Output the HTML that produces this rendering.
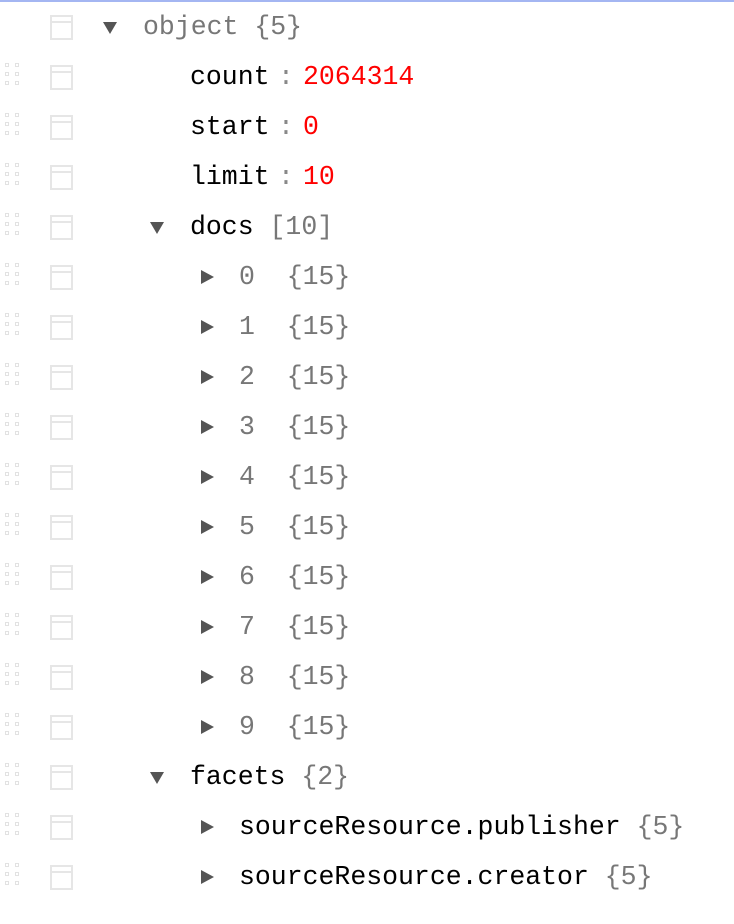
<!DOCTYPE html>
<html><head><meta charset="utf-8"><style>
body{margin:0;width:734px;height:924px;background:#fff;position:relative;overflow:hidden;font-family:"Liberation Mono",monospace;font-size:26.5px}
.top{position:absolute;left:0;top:0;width:734px;height:2px;background:#a4b6f2}
.row{position:absolute;left:0;width:734px;height:50px}
.h{position:absolute;left:5px;top:11px;width:16px;height:24px}
.h i{position:absolute;width:4px;height:4px;border:1px solid #e2e2e2;box-sizing:border-box}
.b{position:absolute;left:50px;top:13px;width:23px;height:25px;border:2px solid #e6e6e6;box-sizing:border-box}
.b:after{content:"";position:absolute;left:0;right:0;top:4px;height:2px;background:#e6e6e6}
.t{position:absolute;top:8px;line-height:34px;white-space:pre}
.k{color:#000}.g{color:#777}.r{color:#f00}
.dn{position:absolute;top:20px;width:0;height:0;border-left:7px solid transparent;border-right:7px solid transparent;border-top:12px solid #555}
.rt{position:absolute;top:18px;width:0;height:0;border-top:7px solid transparent;border-bottom:7px solid transparent;border-left:13px solid #555}
.c{position:absolute;top:8px;line-height:34px;color:#888}
</style></head><body>
<div class="top"></div>
<div class="row" style="top:2px"><div class="b"></div><div class="dn" style="left:103px"></div><div class="t g" style="left:143px">object {5}</div></div>

<div class="row" style="top:52px"><div class="h"><i style="left:0;top:0"></i><i style="left:10px;top:0"></i><i style="left:0;top:9px"></i><i style="left:10px;top:9px"></i><i style="left:0;top:18px"></i><i style="left:10px;top:18px"></i></div><div class="b"></div><div class="t k" style="left:190px">count</div><div class="c" style="left:278px">:</div><div class="t r" style="left:303px">2064314</div></div>
<div class="row" style="top:102px"><div class="h"><i style="left:0;top:0"></i><i style="left:10px;top:0"></i><i style="left:0;top:9px"></i><i style="left:10px;top:9px"></i><i style="left:0;top:18px"></i><i style="left:10px;top:18px"></i></div><div class="b"></div><div class="t k" style="left:190px">start</div><div class="c" style="left:278px">:</div><div class="t r" style="left:303px">0</div></div>
<div class="row" style="top:152px"><div class="h"><i style="left:0;top:0"></i><i style="left:10px;top:0"></i><i style="left:0;top:9px"></i><i style="left:10px;top:9px"></i><i style="left:0;top:18px"></i><i style="left:10px;top:18px"></i></div><div class="b"></div><div class="t k" style="left:190px">limit</div><div class="c" style="left:278px">:</div><div class="t r" style="left:303px">10</div></div>
<div class="row" style="top:202px"><div class="h"><i style="left:0;top:0"></i><i style="left:10px;top:0"></i><i style="left:0;top:9px"></i><i style="left:10px;top:9px"></i><i style="left:0;top:18px"></i><i style="left:10px;top:18px"></i></div><div class="b"></div><div class="dn" style="left:150px"></div><div class="t k" style="left:190px">docs <span class="g">[10]</span></div></div>

<div class="row" style="top:252px"><div class="h"><i style="left:0;top:0"></i><i style="left:10px;top:0"></i><i style="left:0;top:9px"></i><i style="left:10px;top:9px"></i><i style="left:0;top:18px"></i><i style="left:10px;top:18px"></i></div><div class="b"></div><div class="rt" style="left:201px"></div><div class="t g" style="left:239px">0  {15}</div></div>
<div class="row" style="top:302px"><div class="h"><i style="left:0;top:0"></i><i style="left:10px;top:0"></i><i style="left:0;top:9px"></i><i style="left:10px;top:9px"></i><i style="left:0;top:18px"></i><i style="left:10px;top:18px"></i></div><div class="b"></div><div class="rt" style="left:201px"></div><div class="t g" style="left:239px">1  {15}</div></div>
<div class="row" style="top:352px"><div class="h"><i style="left:0;top:0"></i><i style="left:10px;top:0"></i><i style="left:0;top:9px"></i><i style="left:10px;top:9px"></i><i style="left:0;top:18px"></i><i style="left:10px;top:18px"></i></div><div class="b"></div><div class="rt" style="left:201px"></div><div class="t g" style="left:239px">2  {15}</div></div>
<div class="row" style="top:402px"><div class="h"><i style="left:0;top:0"></i><i style="left:10px;top:0"></i><i style="left:0;top:9px"></i><i style="left:10px;top:9px"></i><i style="left:0;top:18px"></i><i style="left:10px;top:18px"></i></div><div class="b"></div><div class="rt" style="left:201px"></div><div class="t g" style="left:239px">3  {15}</div></div>
<div class="row" style="top:452px"><div class="h"><i style="left:0;top:0"></i><i style="left:10px;top:0"></i><i style="left:0;top:9px"></i><i style="left:10px;top:9px"></i><i style="left:0;top:18px"></i><i style="left:10px;top:18px"></i></div><div class="b"></div><div class="rt" style="left:201px"></div><div class="t g" style="left:239px">4  {15}</div></div>
<div class="row" style="top:502px"><div class="h"><i style="left:0;top:0"></i><i style="left:10px;top:0"></i><i style="left:0;top:9px"></i><i style="left:10px;top:9px"></i><i style="left:0;top:18px"></i><i style="left:10px;top:18px"></i></div><div class="b"></div><div class="rt" style="left:201px"></div><div class="t g" style="left:239px">5  {15}</div></div>
<div class="row" style="top:552px"><div class="h"><i style="left:0;top:0"></i><i style="left:10px;top:0"></i><i style="left:0;top:9px"></i><i style="left:10px;top:9px"></i><i style="left:0;top:18px"></i><i style="left:10px;top:18px"></i></div><div class="b"></div><div class="rt" style="left:201px"></div><div class="t g" style="left:239px">6  {15}</div></div>
<div class="row" style="top:602px"><div class="h"><i style="left:0;top:0"></i><i style="left:10px;top:0"></i><i style="left:0;top:9px"></i><i style="left:10px;top:9px"></i><i style="left:0;top:18px"></i><i style="left:10px;top:18px"></i></div><div class="b"></div><div class="rt" style="left:201px"></div><div class="t g" style="left:239px">7  {15}</div></div>
<div class="row" style="top:652px"><div class="h"><i style="left:0;top:0"></i><i style="left:10px;top:0"></i><i style="left:0;top:9px"></i><i style="left:10px;top:9px"></i><i style="left:0;top:18px"></i><i style="left:10px;top:18px"></i></div><div class="b"></div><div class="rt" style="left:201px"></div><div class="t g" style="left:239px">8  {15}</div></div>
<div class="row" style="top:702px"><div class="h"><i style="left:0;top:0"></i><i style="left:10px;top:0"></i><i style="left:0;top:9px"></i><i style="left:10px;top:9px"></i><i style="left:0;top:18px"></i><i style="left:10px;top:18px"></i></div><div class="b"></div><div class="rt" style="left:201px"></div><div class="t g" style="left:239px">9  {15}</div></div>

<div class="row" style="top:752px"><div class="h"><i style="left:0;top:0"></i><i style="left:10px;top:0"></i><i style="left:0;top:9px"></i><i style="left:10px;top:9px"></i><i style="left:0;top:18px"></i><i style="left:10px;top:18px"></i></div><div class="b"></div><div class="dn" style="left:150px"></div><div class="t k" style="left:190px">facets <span class="g">{2}</span></div></div>
<div class="row" style="top:802px"><div class="h"><i style="left:0;top:0"></i><i style="left:10px;top:0"></i><i style="left:0;top:9px"></i><i style="left:10px;top:9px"></i><i style="left:0;top:18px"></i><i style="left:10px;top:18px"></i></div><div class="b"></div><div class="rt" style="left:201px"></div><div class="t k" style="left:239px">sourceResource.publisher <span class="g">{5}</span></div></div>
<div class="row" style="top:852px"><div class="h"><i style="left:0;top:0"></i><i style="left:10px;top:0"></i><i style="left:0;top:9px"></i><i style="left:10px;top:9px"></i><i style="left:0;top:18px"></i><i style="left:10px;top:18px"></i></div><div class="b"></div><div class="rt" style="left:201px"></div><div class="t k" style="left:239px">sourceResource.creator <span class="g">{5}</span></div></div>
</body></html>
